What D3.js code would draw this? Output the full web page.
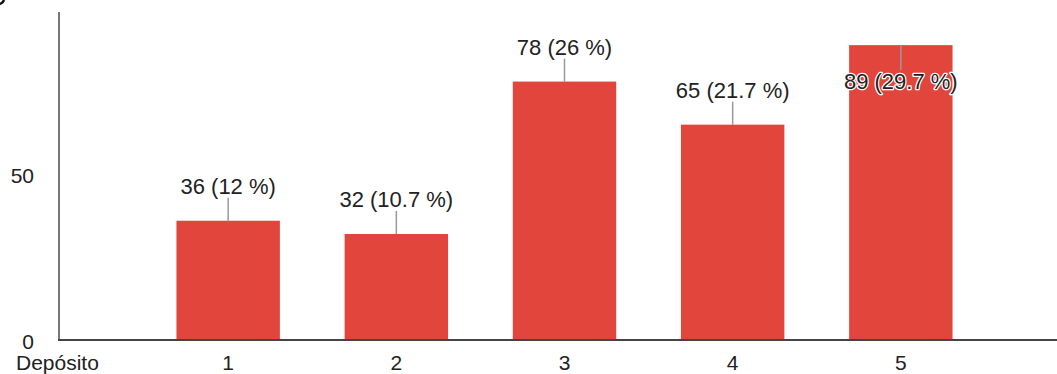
<!DOCTYPE html>
<html>
<head>
<meta charset="utf-8">
<script src="https://cdn.jsdelivr.net/npm/d3@7"></script>
<style>
  html, body { margin: 0; padding: 0; background: #fff; }
  svg { display: block; }
  text { font-family: Arial, "Liberation Sans", sans-serif; }
</style>
</head>
<body>
<svg id="chart" width="1057" height="374"></svg>
<script>
// Respuestas por depósito
const categories = ["1", "2", "3", "4", "5"];
const counts = [36, 32, 78, 65, 89];
const percents = ["12", "10.7", "26", "21.7", "29.7"];
const yTicks = [0, 50];
const axisTitle = "Depósito";

const svg = d3.select("#chart");
const W = 1057;
const baseY = 340, topY = 12, axisX = 59;

const x = d3.scaleBand()
  .domain(categories)
  .range([axisX + 1, 1069])
  .paddingInner(0.385)
  .paddingOuter(0.6925);

const y = d3.scaleLinear().domain([0, 99]).range([baseY, topY]);

// small mark in the top-left corner
svg.append("path")
  .attr("d", "M0,4 Q3,3 4,0")
  .attr("fill", "none").attr("stroke", "#111").attr("stroke-width", 2.5);

// bars
svg.append("g").selectAll("rect")
  .data(counts)
  .join("rect")
  .attr("x", (d, i) => x(categories[i]))
  .attr("width", x.bandwidth())
  .attr("y", d => y(d))
  .attr("height", d => baseY - y(d))
  .attr("fill", "#e2453c");

// y axis line and labels
svg.append("line")
  .attr("x1", axisX).attr("x2", axisX)
  .attr("y1", topY).attr("y2", baseY)
  .attr("stroke", "#777").attr("stroke-width", 2);

svg.append("g").selectAll("text")
  .data(yTicks)
  .join("text")
  .attr("x", 34)
  .attr("y", d => y(d) + 9)
  .attr("text-anchor", "end")
  .attr("font-size", 21)
  .attr("fill", "#222")
  .text(d => d);

// baseline
svg.append("line")
  .attr("x1", axisX - 1).attr("x2", W)
  .attr("y1", baseY).attr("y2", baseY)
  .attr("stroke", "#444").attr("stroke-width", 2);

// category labels
svg.append("g").selectAll("text")
  .data(categories)
  .join("text")
  .attr("x", d => x(d) + x.bandwidth() / 2)
  .attr("y", 370)
  .attr("text-anchor", "middle")
  .attr("font-size", 21)
  .attr("fill", "#222")
  .text(d => d);

svg.append("text")
  .attr("x", 16).attr("y", 370)
  .attr("font-size", 21)
  .attr("fill", "#222")
  .text(axisTitle);

// value annotations with leader lines
const lineLen = 23;
const ann = svg.append("g");
counts.forEach((d, i) => {
  const cx = x(categories[i]) + x.bandwidth() / 2;
  const top = y(d);
  const inside = top - lineLen - 24 < topY + 5;
  const y2 = inside ? top + lineLen + 2 : top - lineLen;
  ann.append("line")
    .attr("x1", cx).attr("x2", cx)
    .attr("y1", top).attr("y2", y2)
    .attr("stroke", "#999").attr("stroke-width", 1.5);
  ann.append("text")
    .attr("x", cx)
    .attr("y", inside ? y2 + 19 : y2 - 4)
    .attr("text-anchor", "middle")
    .attr("font-size", 22)
    .attr("fill", "#222")
    .attr("stroke", "#fff")
    .attr("stroke-width", 2.5)
    .attr("stroke-linejoin", "round")
    .attr("paint-order", "stroke")
    .text(`${d} (${percents[i]} %)`);
});
</script>
</body>
</html>
